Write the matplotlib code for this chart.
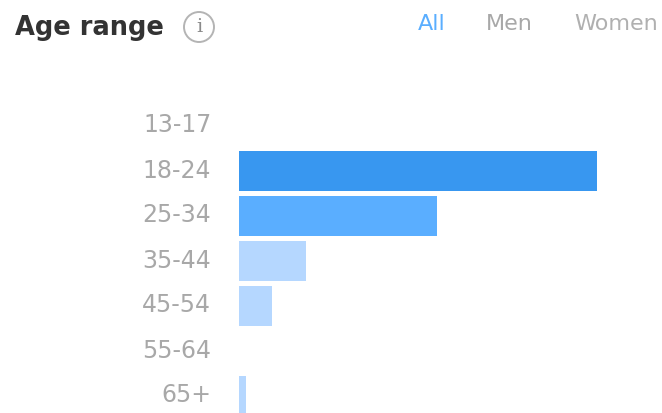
import matplotlib
matplotlib.use("Agg")
import matplotlib.pyplot as plt
from matplotlib.patches import Circle
from matplotlib.transforms import ScaledTranslation

W, H = 662, 413
categories = ["13-17", "18-24", "25-34", "35-44", "45-54", "55-64", "65+"]
values = [0, 100, 55.3, 18.7, 9.2, 0, 2.0]
colors = ["#3897f0", "#3897f0", "#5aaeff", "#b5d7ff", "#b5d7ff", "#b5d7ff", "#b5d7ff"]
tabs = ["All", "Men", "Women"]
tab_colors = ["#5aaeff", "#a8a8a8", "#b0b0b0"]
tab_x = [418, 486, 574]

plt.rcParams['font.family'] = ['DejaVu Sans']
fig = plt.figure(figsize=(W/100, H/100), dpi=100)
top, bottom = 103.5, 418.5
ax = fig.add_axes([239/W, (H-bottom)/H, (597-239)/W, (bottom-top)/H])
y = list(range(len(categories)))
ax.barh(y, values, height=0.91, color=colors)
ax.set_xlim(0, 100)
ax.set_ylim(6.5, -0.5)
ax.set_yticks(y)
ax.set_yticklabels(categories, fontsize=17, color="#a8a8a8")
ax.tick_params(axis='y', length=0, pad=20)
ax.set_xticks([])
for s in ax.spines.values():
    s.set_visible(False)
shift = ScaledTranslation(0, 3/100, fig.dpi_scale_trans)
for lab in ax.get_yticklabels():
    lab.set_transform(lab.get_transform() + shift)

fig.text(15/W, 1-28/H, "Age range", fontsize=18.5, fontweight='bold', color="#333333", va='center')
for t, c, x in zip(tabs, tab_colors, tab_x):
    fig.text(x/W, 1-24/H, t, fontsize=16, color=c, va='center')
fig.text(199/W, 1-27/H, "i", fontsize=14, family='DejaVu Serif', color="#8a8a8a", va='center', ha='center')
bg = fig.add_axes([0, 0, 1, 1], zorder=-1)
bg.set_xlim(0, W); bg.set_ylim(H, 0); bg.axis('off')
bg.add_patch(Circle((199, 27), 15, fill=False, ec="#b4b4b4", lw=1.4))
fig.savefig("out.png", dpi=100)
